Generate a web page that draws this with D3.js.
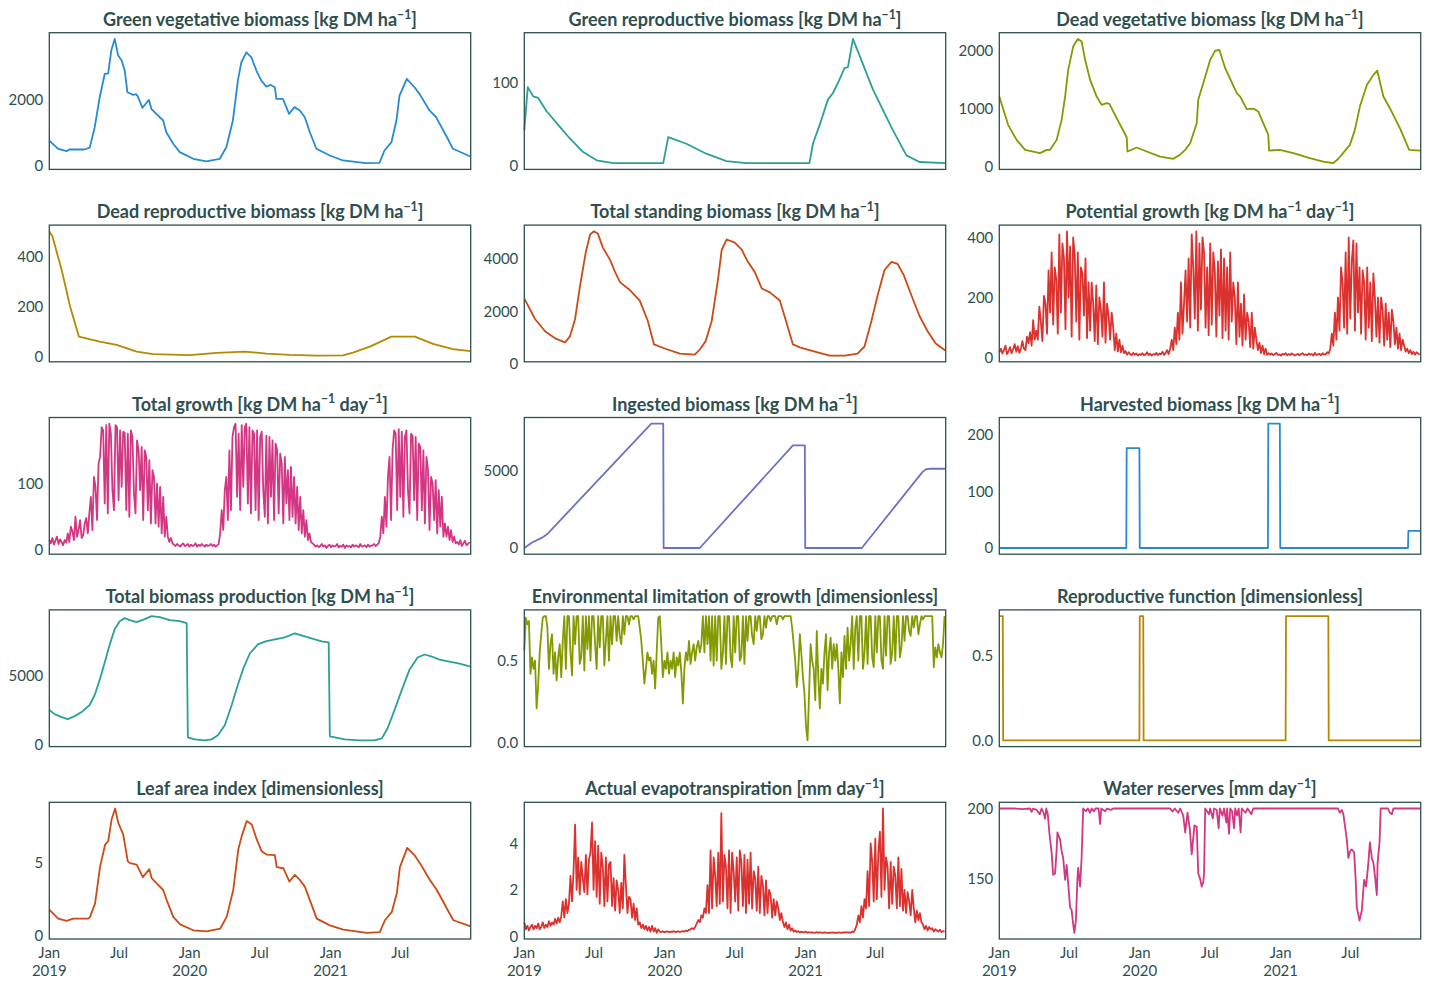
<!DOCTYPE html>
<html><head><meta charset="utf-8">
<script src="https://cdn.jsdelivr.net/npm/d3@7"></script>
<style>body{margin:0;background:#fff} svg{display:block}</style>
</head><body><svg id="chart" width="1430" height="990"></svg>
<script>
// ---- time axis ----
const startDate = "2019-01-01", endDate = "2021-12-31";
const STEP = 4; // days between samples of the dense daily series
const xTickDates = ["2019-01-01","2019-07-01","2020-01-01","2020-07-01","2021-01-01","2021-07-01"];
const xTickLabels = [["Jan","2019"],["Jul"],["Jan","2020"],["Jul"],["Jan","2021"],["Jul"]];

// ---- series: [day since 2019-01-01, value] ----
const greenVeg = [[0,770],[23,524],[45,452],[52,503],[91,503],[105,560],[118,1175],[131,2078],[144,2780],[153,2800],[161,3485],[170,3837],[179,3334],[188,3184],[196,2883],[203,2229],[209,2200],[218,2150],[226,2170],[230,2100],[242,1760],[259,2000],[265,1730],[278,1578],[296,1377],[304,1024],[322,675],[339,422],[374,222],[408,142],[443,222],[460,572],[477,1376],[490,2580],[499,3133],[512,3434],[525,3283],[538,2883],[551,2580],[564,2400],[575,2450],[586,2380],[590,2030],[607,2030],[623,1578],[637,1780],[651,1680],[664,1477],[677,1024],[694,524],[729,322],[763,172],[823,90],[858,100],[871,473],[889,723],[902,1376],[910,2130],[929,2631],[949,2380],[962,2180],[988,1680],[1005,1477],[1031,925],[1049,524],[1094,292]];
const greenRep = [[0,43],[9,95],[23,84],[36,82],[58,66],[93,47],[119,33],[153,17],[188,7],[231,3.6],[361,3.6],[374,35],[421,27],[473,15],[525,6],[577,3.6],[741,3.6],[750,27],[767,49],[789,80],[802,88],[815,100],[832,118],[841,119],[854,153],[906,92],[958,43],[993,13],[1027,5],[1094,3.6]];
const deadVeg = [[0,1207],[23,719],[45,460],[67,288],[106,231],[123,288],[132,288],[149,460],[162,805],[171,1207],[179,1667],[192,2069],[204,2201],[214,2155],[223,1840],[236,1494],[253,1207],[266,1063],[279,1092],[286,1080],[305,834],[331,506],[333,259],[357,328],[383,259],[418,172],[452,133],[469,201],[483,288],[496,403],[513,748],[517,1150],[530,1437],[548,1840],[561,2000],[572,2010],[587,1696],[617,1265],[626,1207],[643,989],[660,1000],[673,948],[699,546],[701,276],[729,288],[764,231],[807,144],[842,86],[868,58],[881,134],[911,374],[924,633],[937,1034],[955,1408],[972,1581],[982,1655],[998,1207],[1015,1006],[1041,662],[1065,288],[1094,276]];
const deadRep = [[0,503],[8,483],[32,349],[54,201],[77,80],[131,60],[175,47],[227,20],[270,10],[365,6],[435,15],[508,20],[564,12],[625,7],[694,4],[763,5],[789,16],[833,40],[889,80],[950,80],[997,51],[1049,30],[1094,22]];
const totalStanding = [[0,2485],[28,1710],[54,1245],[80,975],[106,820],[119,1060],[132,1710],[145,2990],[160,4265],[171,4920],[181,5040],[191,4960],[204,4420],[223,3955],[236,3490],[249,3100],[275,2800],[300,2410],[321,1635],[337,745],[365,590],[404,395],[443,355],[456,550],[471,860],[487,1635],[503,3180],[513,4340],[526,4730],[547,4610],[565,4340],[581,3880],[599,3490],[617,2870],[638,2720],[664,2410],[680,1635],[698,745],[716,630],[755,470],[794,320],[833,320],[866,395],[884,665],[902,1635],[918,2600],[936,3570],[954,3880],[970,3800],[986,3375],[1006,2600],[1027,1825],[1048,1245],[1069,780],[1094,510]];
const ingested = [[0,0],[20,350],[45,650],[60,900],[75,1300],[330,8000],[361,8000],[362,0],[456,0],[698,6600],[729,6600],[730,0],[877,0],[1035,4900],[1045,5080],[1055,5100],[1094,5100]];
const harvested = [[0,0],[330,0],[331,176],[364,176],[365,0],[698,0],[699,219],[729,219],[730,0],[1062,0],[1063,30],[1094,30]];
const totalProduction = [[0,2518],[14,2226],[32,2007],[48,1861],[66,2080],[84,2372],[105,2883],[118,3613],[131,4708],[144,5949],[157,7263],[170,8358],[183,8942],[196,9161],[209,9015],[227,8869],[248,9088],[266,9307],[287,9234],[313,9015],[339,8942],[357,8796],[360,547],[378,401],[404,328],[422,401],[438,693],[456,1423],[474,2883],[490,4343],[505,5584],[521,6606],[542,7263],[562,7482],[586,7628],[612,7774],[638,8066],[664,7847],[690,7628],[708,7482],[726,7409],[729,620],[768,401],[806,328],[845,328],[864,474],[879,1204],[897,2518],[916,3978],[936,5438],[957,6314],[975,6533],[994,6387],[1014,6168],[1040,6022],[1066,5876],[1094,5657]];
const reproFunction = [[0,0.735],[9,0.735],[10,0],[364,0],[365,0.735],[374,0.735],[375,0],[744,0],[745,0.735],[855,0.735],[856,0],[1094,0]];
const leafArea = [[0,1.77],[23,1.15],[45,0.99],[62,1.15],[101,1.15],[106,1.27],[119,2.19],[132,4.72],[145,6.22],[153,6.45],[162,7.95],[171,8.69],[179,7.72],[192,6.91],[204,5.07],[210,4.95],[227,4.85],[243,3.99],[260,4.54],[266,3.92],[279,3.57],[296,3.11],[305,2.42],[322,1.27],[340,0.76],[374,0.35],[409,0.28],[444,0.46],[461,1.27],[478,3.11],[491,5.88],[500,6.8],[513,7.83],[526,7.6],[539,6.57],[552,5.76],[565,5.53],[586,5.5],[591,4.68],[608,4.6],[624,3.69],[638,4.15],[651,3.8],[664,3.34],[677,2.42],[695,1.15],[729,0.69],[764,0.39],[825,0.18],[859,0.23],[872,1.04],[890,1.61],[903,2.88],[911,4.68],[930,5.99],[950,5.46],[963,4.95],[989,3.8],[1007,3.11],[1033,1.84],[1050,1.04],[1095,0.62]];
const waterReserves = [[0,200],[40,200],[60,199.5],[80,200],[84,197.6],[88,200],[97,199],[105,196],[110,200],[115,197],[119,192.8],[122,200],[126,196],[130,183],[136,168.8],[140,153],[145,154],[149,171],[151,183],[158,178],[162,170],[166,165],[171,149.5],[175,160],[179,147],[184,130],[188,128],[192,118],[195,112],[199,120.7],[203,150],[205,158],[210,144.7],[214,166],[218,200],[225,198],[230,200],[236,197],[240,200],[246,198],[250,200],[258,200],[262,189],[265,200],[275,198],[280,200],[290,199],[296,200],[444,200],[450,198],[456,200],[465,197],[470,200],[478,195],[483,183],[489,197],[495,185.6],[500,167.5],[507,188],[513,187],[517,154],[522,150],[526,144.7],[530,148],[532,154],[535,200],[545,196],[548,200],[555,193],[558,200],[565,199],[570,186],[573,200],[580,195],[584,200],[590,190],[592,200],[597,182],[600,200],[605,198],[610,186],[613,200],[618,195],[622,200],[627,183],[630,200],[640,197],[645,200],[655,196],[660,200],[880,200],[885,197],[890,199],[894,196],[898,188],[903,178],[907,165],[912,170],[916,171],[922,169],[926,150],[929,130],[936,120.7],[942,128],[948,149.5],[953,144.7],[959,161.5],[963,176],[968,165],[972,161.5],[977,150],[981,138.7],[983,161.5],[988,176],[991,200],[1010,200],[1015,197],[1020,196],[1024,200],[1094,200]];

// ---- dense series sampled every STEP days ----
const potentialGrowth = [18,30,14,25,40,12,22,35,15,28,45,20,38,16,30,
 55,30,25,70,48,85,40,125,60,90, 60,170,120,55,205,180,80,290, 150,350,110,
 300,260,80,410,150,380,330,95,420,200,370,70,400,340, 120,350,60,300,280,140,330,65,250,90,
 250,180,55,240,45,200,160,70,250,50,180,140,60,150, 100,25,80,20,60,18,40,
 15,22,10,18,12,8,16,10,14,7,12,9,15,8,11,18,9,13,7,12,10,16,8,14,11,20,9,15,25,12,
 30,60,25,100,45,150,60, 250,80,180,290,120,330, 100,410,300,130,420,90,380,160,
 400,350,100,300,75,380,110,350,290,70, 320,140,360,65,330,90,300, 60,350,120,250,200,45,250,70,180,40,
 210,60,150,120,35,150,30,100, 60,25,50,15,40,12,30,10,15,
 10,14,8,12,16,9,11,7,13,10,15,8,12,9,14,11,7,10,13,8,12,15,9,11,8,14,10,12,7,16,9,11,13,8,15,10,12,18,14,
 30,80,40,150,60,200,90, 300,250,100,350,80,400,130, 320,390,90,380,150,300,80,
 290,250,60,300,100,250,55,280,200,70, 200,50,200,160,40,180,60,150,35,160,120,
 45,100,30,80,25,60,40, 20,30,15,25,12,20,10,18,14,10];
const totalGrowth = [15,10,18,8,14,20,9,16,12,7,15,11,
 25,12,35,28,15,50,20,30,45,18,22,40,48,25,55, 80,30,110,95,45,130,140,
 185,180,70,188,55,190,175,90,60,188,185,75,180,95,178, 176,60,175,50,180,170,85,55,165,150,90,
 155,45,150,140,60,135,40,120,110,40,100, 35,95,25,80,20,50, 20,12,18,10,
 8,6,9,7,5,8,10,6,7,9,5,8,6,7,10,5,8,6,9,7,5,8,6,7,9,6,8,5,7,9,
 25,60,30,90,110,45,150,60,170, 185,190,80,175,60,188,95,185,190,70,185,55,180,
 175,60,180,45,170,178,90,50,172,40,170,80,165,45,160, 150,55,145,130,40,140,70,120,45,125,50,
 110,40,95,30,80,25,60,20,45,15,25,12,10,
 8,5,7,4,6,9,5,7,3,6,8,4,7,5,6,9,4,6,5,8,3,7,5,6,4,8,5,7,6,4,9,5,6,7,4,8,5,6,7,9,6,8,10,
 20,50,25,80,35,110,140,45,150, 180,175,60,182,80,178,50,170,180,90,55,175,172,
 75,170,45,160,155,60,150,40,140, 120,30,110,100,45,105,25,90,35,80,20,
 40,20,35,15,30,12,20,10, 12,8,15,6,10,14,7,9,12];
const envLimitation = [0.56,0.76,0.72,0.74, 0.42,0.52,0.45,0.5, 0.21,0.35,0.55, 0.66,0.76,0.77,0.77,0.7, 0.45,0.6,0.66,
 0.42,0.55,0.38,0.52,0.6,0.4,0.62,
 0.77,0.45,0.77,0.77,0.55,0.41,0.77,0.6,0.77,0.77,0.48,0.52,0.77,0.44,0.77,0.57,0.77,
 0.5,0.77,0.77,0.6,0.45,0.77,0.58,0.77,0.77,0.47,0.62,0.77,0.5,0.77,0.6,
 0.77,0.77,0.62,0.77,0.65,0.6,0.77,0.66,0.77, 0.77,0.72,0.77,0.77,0.75,0.77,0.77,0.77,0.7,
 0.62,0.5,0.36, 0.45,0.55,0.5,0.52,0.42,0.5,0.33, 0.55,0.76,0.77,0.6,0.4,0.5,0.45,
 0.55,0.42,0.5,0.45,0.55,0.4,0.52,0.47,0.55,0.43,0.24,0.45,0.55,0.5,
 0.62,0.48,0.55,0.6,0.5,0.58,0.62,0.55,0.6,
 0.77,0.55,0.77,0.6,0.77,0.5,0.77,0.47,
 0.77,0.5,0.77,0.77,0.45,0.55,0.77,0.48,0.77,0.77,0.52,0.46,0.77,0.55,0.77,0.77,0.5,0.53,0.77,0.48,0.77,
 0.62,0.77,0.77,0.65,0.6,0.77,0.68,0.77,0.77,0.63,0.66,0.77,0.7,
 0.77,0.77,0.74,0.77,0.77,0.77,0.72,0.77,0.77,0.77,0.75,0.77,0.77,0.77,0.77,0.77,
 0.7,0.6,0.5,0.34,0.45, 0.66,0.54,0.4,0.3, 0.1,0.016,0.3,0.6,0.5, 0.45,0.26,0.68,0.4,
 0.21,0.45,0.36,0.55,0.66, 0.32,0.55,0.64,0.45,0.6, 0.5,0.6,0.45,0.24,0.55,0.4, 0.65,0.45,0.7,0.5,0.6,0.77,0.45,0.7,
 0.77,0.5,0.77,0.77,0.45,0.55,0.77,0.48,0.77,0.77,0.52,0.46,0.77,0.55,0.77,0.77,0.5,0.45,0.77,0.53,0.77,0.77,0.48,0.55,0.77,0.5,0.77,0.77,0.52,0.58,0.77,
 0.62,0.77,0.77,0.68,0.65,0.77,0.7,0.77,0.77,0.66,0.72,0.77,0.75,0.77,0.77,0.77,0.77,
 0.77,0.77,0.46,0.58,0.52,0.6,0.55,0.52,0.6,0.77];
const evapotranspiration = [0.6,0.3,0.45,0.25,0.4,0.5,0.3,0.45,0.35,0.55,0.3,0.4,0.6,0.35,0.5,0.4,0.65,0.45,0.6,0.5,0.75,0.55,0.8,0.6,0.85,
 1.5,0.8,1.6,1.0,1.4, 2.6,1.5,2.8,4.8,2.0,3.4,1.8, 3.2,2.5,1.9,3.5,1.8,3.3,3.6, 4.9,2.0,4.1,1.7,3.9,
 1.4,3.6,3.0,1.3,3.4,1.5,3.1,3.2,1.3, 2.5,1.1,2.4,2.0,1.0,2.3,1.2,3.5, 2.2,1.0,1.7,1.6,0.8,1.4,0.7,1.2,0.5,
 0.6,0.35,0.5,0.3,0.45,0.25,0.4, 0.2,0.45,0.2,0.35,0.15,0.3,
 0.2,0.18,0.22,0.17,0.2,0.21,0.18,0.2,0.19,0.22,0.18,0.2,0.21,0.19,0.2,0.22,0.2,0.25,0.22,0.28,0.3,0.35,0.3,0.4,
 0.55,0.7,0.6,0.9,0.8,1.2,1.0, 2.2,1.0,3.7,1.2, 3.4,2.6,1.3,3.6,1.4,5.3,1.5,
 3.5,3.0,1.2,3.7,1.0,3.6,2.8,1.5,3.4,1.1,3.7,3.2,1.3,3.5,1.0,3.3,1.4,
 3.6,1.2,2.8,2.5,1.1,3.0,1.0,2.6,2.2,0.9,2.4, 1.0,2.0,1.8,0.8,1.6,0.9,1.5,1.2,0.7,1.0,0.6,
 0.4,0.6,0.3,0.5,0.25,0.35,
 0.2,0.25,0.18,0.22,0.16,0.2,0.18,0.17,0.2,0.15,0.18,0.16,0.17,0.15,0.16,0.18,0.15,0.17,0.16,0.15,0.17,0.16,0.15,0.16,0.15,0.17,0.15,0.16,0.15,0.17,0.16,0.15,0.17,0.16,0.18,0.16,0.17,0.15,0.2,0.18,0.3,
 0.5,0.9,0.6,1.3,0.8,1.6, 1.2,2.8,1.3,4.0,3.2, 1.5,4.2,1.6,3.6,4.5,1.7,5.5,2.0,
 3.4,3.0,1.2,3.2,1.4,3.0,2.6,1.2,3.4,1.3,2.9,1.1, 2.0,1.0,1.9,1.5,0.9,2.0, 1.2,0.6,1.1,0.7,1.0,0.6,
 0.5,0.3,0.45,0.25,0.4,0.3,0.35,0.2,0.3,0.25,0.2,0.28,0.18,0.22,0.2];

// ---- titles & tick values ----
const titles = [
 "Green vegetative biomass [kg DM ha^{−1}]", "Green reproductive biomass [kg DM ha^{−1}]", "Dead vegetative biomass [kg DM ha^{−1}]",
 "Dead reproductive biomass [kg DM ha^{−1}]", "Total standing biomass [kg DM ha^{−1}]", "Potential growth [kg DM ha^{−1} day^{−1}]",
 "Total growth [kg DM ha^{−1} day^{−1}]", "Ingested biomass [kg DM ha^{−1}]", "Harvested biomass [kg DM ha^{−1}]",
 "Total biomass production [kg DM ha^{−1}]", "Environmental limitation of growth [dimensionless]", "Reproductive function [dimensionless]",
 "Leaf area index [dimensionless]", "Actual evapotranspiration [mm day^{−1}]", "Water reserves [mm day^{−1}]"];
const yTicks = [[0,2000],[0,100],[0,1000,2000],[0,200,400],[0,2000,4000],[0,200,400],[0,100],[0,5000],[0,100,200],[0,5000],[0,0.5],[0,0.5],[0,5],[0,2,4],[150,200]];
const yFormats = ["d","d","d","d","d","d","d","d","d","d",".1f",".1f","d","d","d"];
const colors = ["#268bd2","#2aa198","#859900","#b58900","#cb4b16","#dc322f","#d33682","#6c71c4","#268bd2","#2aa198","#859900","#b58900","#cb4b16","#dc322f","#d33682"];

const dense = a => a.map((v,i)=>[i*STEP, v]);
const seriesList = [greenVeg, greenRep, deadVeg, deadRep, totalStanding, dense(potentialGrowth), dense(totalGrowth), ingested, harvested,
  totalProduction, dense(envLimitation), reproFunction, leafArea, dense(evapotranspiration), waterReserves];

// ---- drawing ----
const TXT = "#2f4f4f";
const FONT = "Lato, 'Noto Sans', sans-serif";
const L0 = 49.3, CS = 475, W = 421.4, T0 = 32.7, RS = 192.4, H = 136.7;
const svg = d3.select("#chart").style("font-family", FONT);
const t0 = new Date(startDate + "T00:00:00Z").getTime(), DAY = 864e5;
const x = d3.scaleUtc().domain([new Date(startDate + "T00:00:00Z"), new Date(endDate + "T00:00:00Z")]).range([0, W]);

seriesList.forEach((data, k) => {
  const r = Math.floor(k / 3), c = k % 3;
  const g = svg.append("g").attr("transform", `translate(${L0 + c * CS},${T0 + r * RS})`);
  const pts = data.map(d => [new Date(t0 + d[0] * DAY), d[1]]);
  const [mn, mx] = d3.extent(pts, d => d[1]);
  const pad = (mx - mn) * 0.05;
  const y = d3.scaleLinear().domain([mn - pad, mx + pad]).range([H, 0]);

  const ay = g.append("g").call(d3.axisLeft(y).tickValues(yTicks[k]).tickSize(0).tickPadding(6).tickFormat(d3.format(yFormats[k])));
  ay.select(".domain").remove();
  ay.selectAll("text").attr("fill", TXT).style("font-size", "15px").style("font-family", FONT);

  g.append("path").datum(pts)
    .attr("d", d3.line().x(d => x(d[0])).y(d => y(d[1])))
    .attr("fill", "none").attr("stroke", colors[k]).attr("stroke-width", 1.8)
    .attr("stroke-linejoin", "round");

  g.append("rect").attr("width", W).attr("height", H)
    .attr("fill", "none").attr("stroke", TXT).attr("stroke-width", 1.3);

  // title with superscripts
  const fs = 18;
  const t = g.append("text").attr("x", W / 2).attr("y", -7).attr("text-anchor", "middle")
    .attr("fill", TXT).style("font-size", fs + "px").style("font-weight", 700);
  const parts = titles[k].split(/\^\{([^}]*)\}/);
  let raised = false;
  parts.forEach((p, i) => {
    if (!p.length) return;
    if (i % 2 === 1) {
      t.append("tspan").text(p).style("font-size", (fs * 0.68) + "px").attr("dy", raised ? 0 : -fs * 0.4);
      raised = true;
    } else {
      t.append("tspan").text(p).attr("dy", raised ? fs * 0.4 : 0);
      raised = false;
    }
  });

  if (r === 4) {
    const ax = g.append("g").attr("transform", `translate(0,${H})`)
      .call(d3.axisBottom(x).tickValues(xTickDates.map(s => new Date(s + "T00:00:00Z"))).tickSize(0).tickFormat(""));
    ax.select(".domain").remove();
    xTickDates.forEach((s, i) => {
      const tx = g.append("text").attr("x", x(new Date(s + "T00:00:00Z"))).attr("y", H + 19)
        .attr("text-anchor", "middle").attr("fill", TXT).style("font-size", "15px");
      xTickLabels[i].forEach((line, j) => tx.append("tspan").attr("x", x(new Date(s + "T00:00:00Z"))).attr("dy", j ? 18 : 0).text(line));
    });
  }
});
</script></body></html>
